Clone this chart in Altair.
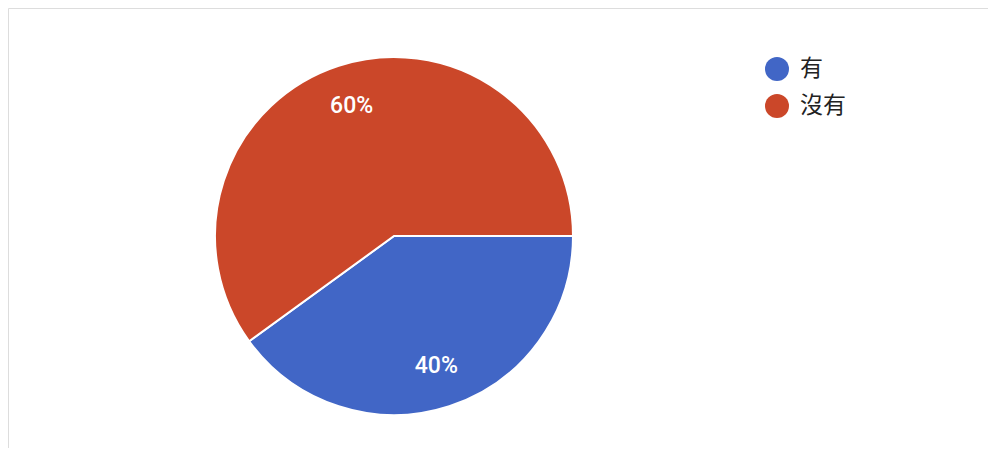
import altair as alt
import pandas as pd
import math

categories = ["有", "沒有"]
values = [40, 60]
labels = ["40%", "60%"]
order = [0, 1]

df = pd.DataFrame({"cat": categories, "val": values, "label": labels, "ord": order})

start = math.pi / 2
theta_scale = alt.Scale(range=[start, start + 2 * math.pi])
color_scale = alt.Scale(domain=categories, range=["#4166c6", "#cb4729"])

cx, cy = 386, 228

base = alt.Chart(df).encode(
    theta=alt.Theta("val:Q", stack=True, scale=theta_scale),
    order=alt.Order("ord:Q"),
    x=alt.value(cx),
    y=alt.value(cy),
)

pie = base.mark_arc(outerRadius=179, stroke="white", strokeWidth=2).encode(
    color=alt.Color(
        "cat:N",
        scale=color_scale,
        sort=categories,
        legend=alt.Legend(
            title=None,
            orient="none",
            legendX=757,
            legendY=49,
            symbolType="circle",
            symbolSize=576,
            symbolStrokeWidth=0,
            labelFontSize=23,
            labelFont="Noto Sans CJK TC",
            labelColor="#222222",
            labelOffset=11,
            rowPadding=13,
            padding=0,
        ),
    )
)

text = base.mark_text(
    radius=137, fontSize=23, fontWeight=500, font="Roboto", color="white"
).encode(text="label:N")

chart = (
    alt.layer(pie, text)
    .properties(width=980, height=440, padding=0,
                autosize=alt.AutoSizeParams(type="fit", contains="padding"))
    .configure_view(strokeOpacity=0, strokeWidth=0)
    .configure(background="white")
)

chart.save("out.html", embed_options={"renderer": "svg", "actions": False})
